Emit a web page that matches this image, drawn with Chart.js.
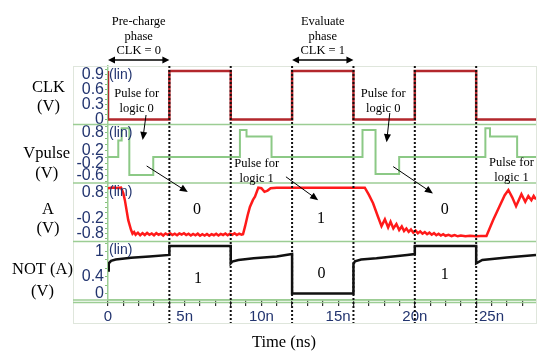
<!DOCTYPE html>
<html>
<head>
<meta charset="UTF-8">
<title>Dynamic logic waveforms</title>
<script src="https://cdn.jsdelivr.net/npm/chart.js"></script>
<style>
  html, body { margin: 0; padding: 0; background: #fff; }
</style>
</head>
<body>
<canvas id="myChart" width="550" height="359"></canvas>
<script>
// time axis (ns)
const xTicks = [0,1,2,3,4,5,6,7,8,9,10,11,12,13,14,15,16,17,18,19,20,21,22,23,24,25,26,27];
const xLabelled = [0, 5, 10, 15, 20, 25];

// clock edges (ns), dotted guides
const clkEdges = [4, 8, 12, 16, 20, 24];

// CLK (V)
const clkTime = [0, 0, 4, 4, 8, 8, 12, 12, 16, 16, 20, 20, 24, 24, 27.9];
const clkVolt = [0.97, 0, 0, 0.97, 0.97, 0, 0, 0.97, 0.97, 0, 0, 0.97, 0.97, 0, 0];
const clkTicks = [0, 0.1, 0.2, 0.3, 0.4, 0.5, 0.6, 0.7, 0.8, 0.9, 1.0];
const clkLabels = [0, 0.3, 0.6, 0.9];

// Vpulse (V)
const vpTime = [0, 0.67, 0.67, 0.89, 0.89, 1.39, 1.39, 2.95, 2.95, 8.6, 8.6, 9.03, 9.03, 10.66, 10.66,
  16.59, 16.59, 17.44, 17.44, 18.98, 18.98, 24.6, 24.6, 24.9, 24.9, 26.67, 26.67, 27.9];
const vpVolt = [0, 0, 0.53, 0.53, 0.93, 0.93, -0.58, -0.58, 0, 0, 0.87, 0.87, 0.66, 0.66, 0,
  0, 0.87, 0.87, -0.55, -0.55, 0, 0, 0.93, 0.93, 0.66, 0.66, 0, 0];
const vpTicks = [-0.8, -0.6, -0.4, -0.2, 0, 0.2, 0.4, 0.6, 0.8, 1.0];
const vpLabels = [0.8, 0.2, -0.2, -0.6];

// A (V)
const aTime = [0, 0.3, 0.6, 0.85, 1.0, 1.1, 1.32, 1.5, 1.6,
  1.7, 1.8, 1.95, 2.1, 2.25, 2.4, 2.55, 2.7, 2.85, 3.0, 3.15, 3.3, 3.45, 3.6, 3.75, 3.9,
  4.05, 4.2, 4.35, 4.5, 4.65, 4.8, 4.95, 5.1, 5.25, 5.4, 5.55, 5.7, 5.85, 6.0, 6.15, 6.3,
  6.45, 6.6, 6.75, 6.9, 7.05, 7.2, 7.35, 7.5, 7.65, 7.8, 7.95, 8.1, 8.25, 8.4, 8.55, 8.7, 8.8,
  8.93, 9.1, 9.25, 9.45, 9.58, 9.8, 10.0, 10.2, 10.4, 10.6, 11.0, 13.0, 15.0, 16.74,
  17.0, 17.28, 17.6, 17.83, 18.05, 18.26, 18.42, 18.6, 18.8, 18.98, 19.15, 19.3, 19.45, 19.6,
  19.75, 19.9, 20.05, 20.2, 20.35, 20.5, 20.65, 20.8, 20.95, 21.1, 21.25, 21.4, 21.55, 21.7,
  21.85, 22.0, 22.2, 22.4, 22.6, 22.8, 23.0, 23.3, 23.6, 24.0, 24.3, 24.67,
  25.1, 25.5, 25.86, 26.1, 26.35, 26.6, 26.95, 27.2, 27.4, 27.6, 27.75, 27.9];
const aVolt = [0.95, 0.98, 0.96, 0.97, 0.75, 0.49, -0.28, -0.65, -0.8,
  -0.74, -0.84, -0.76, -0.86, -0.78, -0.85, -0.77, -0.84, -0.79, -0.86, -0.78, -0.84, -0.80, -0.87, -0.79, -0.84,
  -0.78, -0.85, -0.80, -0.86, -0.79, -0.83, -0.78, -0.85, -0.80, -0.87, -0.81, -0.86, -0.80, -0.88, -0.82, -0.87,
  -0.81, -0.88, -0.82, -0.86, -0.80, -0.87, -0.81, -0.85, -0.79, -0.86, -0.80, -0.84, -0.78, -0.85, -0.80, -0.84, -0.82,
  -0.53, -0.1, 0.23, 0.5, 0.62, 0.97, 0.95, 0.81, 0.86, 0.95, 0.97, 0.97, 0.97, 0.97,
  0.7, 0.37, -0.15, -0.51, -0.25, -0.56, -0.34, -0.60, -0.43, -0.66, -0.52, -0.70, -0.60, -0.73,
  -0.64, -0.76, -0.68, -0.78, -0.71, -0.80, -0.74, -0.82, -0.76, -0.84, -0.78, -0.86, -0.80, -0.87,
  -0.82, -0.88, -0.84, -0.89, -0.85, -0.90, -0.87, -0.90, -0.88, -0.90, -0.89, -0.89,
  -0.28, 0.23, 0.68, 0.88, 0.6, 0.26, 0.72, 0.43, 0.65, 0.49, 0.65, 0.52];
const aTicks = [-1.0, -0.8, -0.6, -0.4, -0.2, 0, 0.2, 0.4, 0.6, 0.8, 1.0];
const aLabels = [0.8, -0.2, -0.8];

// NOT (A) (V)
const notTime = [0, 0.05, 0.2, 0.5, 1.5, 2.7, 4.0, 4.0, 8.0, 8.0, 8.1, 8.5, 9.5, 11.0, 12.0,
  12.0, 16.0, 16.0, 16.1, 16.5, 17.5, 19.5, 20.0, 20.0, 24.0, 24.0, 24.4, 26.0, 27.9];
const notVolt = [0.55, 0.72, 0.78, 0.81, 0.85, 0.88, 0.92, 1.13, 1.13, 0.72, 0.76, 0.80, 0.84, 0.88, 0.94,
  0.0, 0.0, 0.70, 0.77, 0.81, 0.84, 0.92, 0.94, 1.13, 1.13, 0.72, 0.80, 0.86, 0.92];
const notTicks = [0, 0.2, 0.4, 0.6, 0.8, 1.0, 1.2];
const notLabels = [1, 0.4, 0];

// annotations
const phaseSpans = [[0, 4], [12, 16]];
const phaseTexts = [['Pre-charge', 'phase', 'CLK = 0'], ['Evaluate', 'phase', 'CLK = 1']];
const panelNames = [['yClk', ['CLK', '(V)'], 0.64, 0.26, 48.5], ['yVp', ['Vpulse', '(V)'], 0.12, -0.53, 46.7],
  ['yA', ['A', '(V)'], 0.11, -0.6, 48], ['yNot', ['NOT (A)', '(V)'], 0.58, 0.04, 42.5]];
const pulseNotes = [[['Pulse for', 'logic 0'], 1.87, 'yClk', 0.51], [['Pulse for', 'logic 0'], 17.94, 'yClk', 0.51],
  [['Pulse for', 'logic 1'], 9.69, 'yVp', -0.23], [['Pulse for', 'logic 1'], 26.3, 'yVp', -0.17]];
const noteArrows = [[2.48, 'yClk', 0.09, 2.26, 'yVp', 0.55], [18.37, 'yClk', 0.13, 18.16, 'yVp', 0.48],
  [2.52, 'yVp', -0.29, 5.2, 'yA', 0.8], [18.59, 'yVp', -0.31, 21.18, 'yA', 0.75],
  [11.6, 'yVp', -0.64, 13.7, 'yA', 0.49]];
const logicDigits = [['0', 5.8, 'yA', 0.11], ['1', 13.88, 'yA', -0.24], ['0', 21.95, 'yA', 0.11],
  ['1', 5.86, 'yNot', 0.345], ['0', 13.92, 'yNot', 0.46], ['1', 21.95, 'yNot', 0.44]];

const NAVY = '#22346f';
const GREEN = '#9ccd94';
const SERIF = "'Liberation Serif', 'Times New Roman', serif";
const SANS = "'Liberation Sans', Arial, sans-serif";

const pts = (ts, vs) => ts.map((t, i) => ({x: t, y: vs[i]}));

function panelAxis(min, max, ticks, labels, weight) {
  return {
    type: 'linear', axis: 'y', position: 'left', stack: 'wave', stackWeight: 1, weight: weight,
    min: min, max: max,
    afterFit(s) { s.width = 35; },
    afterBuildTicks(s) { s.ticks = ticks.map(v => ({value: v})); },
    ticks: {
      autoSkip: false, padding: 1, color: NAVY, font: {family: SANS, size: 16},
      callback: v => labels.includes(v) ? String(v) : ''
    },
    grid: {drawOnChartArea: false, drawTicks: true, tickLength: 3, color: '#86c17e', lineWidth: 1},
    border: {display: true, color: GREEN, width: 1.5}
  };
}

function arrowHead(ctx, x, y, ang, len, w) {
  ctx.beginPath();
  ctx.moveTo(x, y);
  ctx.lineTo(x - len * Math.cos(ang) + w * Math.sin(ang), y - len * Math.sin(ang) - w * Math.cos(ang));
  ctx.lineTo(x - len * Math.cos(ang) - w * Math.sin(ang), y - len * Math.sin(ang) + w * Math.cos(ang));
  ctx.closePath();
  ctx.fill();
}

const decor = {
  id: 'decor',
  beforeDatasetsDraw(chart) {
    const ctx = chart.ctx, area = chart.chartArea, xs = chart.scales.x;
    const left = chart.scales.yClk.left;
    ctx.save();
    // outer frame
    ctx.strokeStyle = '#dfe6dc';
    ctx.lineWidth = 1;
    ctx.strokeRect(left + 0.5, area.top + 0.5, area.right - left, xs.bottom - area.top);
    // panel separators
    ctx.strokeStyle = GREEN;
    ctx.lineWidth = 1.5;
    ['yClk', 'yVp', 'yA', 'yNot'].forEach(id => {
      const b = chart.scales[id].bottom;
      ctx.beginPath(); ctx.moveTo(left, b); ctx.lineTo(area.right, b); ctx.stroke();
    });
    ctx.beginPath(); ctx.moveTo(left, area.bottom + 2.5); ctx.lineTo(area.right, area.bottom + 2.5); ctx.stroke();
    ctx.restore();
  },
  afterDatasetsDraw(chart) {
    const ctx = chart.ctx, area = chart.chartArea, xs = chart.scales.x, sc = chart.scales;
    ctx.save();
    // dotted clock edges
    ctx.strokeStyle = '#111';
    ctx.lineWidth = 2;
    ctx.setLineDash([2, 2]);
    clkEdges.forEach(t => {
      const px = xs.getPixelForValue(t);
      ctx.beginPath(); ctx.moveTo(px, area.top); ctx.lineTo(px, xs.bottom); ctx.stroke();
    });
    ctx.setLineDash([]);

    // (lin) tags
    ctx.fillStyle = NAVY;
    ctx.font = '14px ' + SANS;
    ctx.textAlign = 'left';
    ctx.textBaseline = 'middle';
    ['yClk', 'yVp', 'yA', 'yNot'].forEach(id => ctx.fillText('(lin)', area.left + 1, sc[id].top + 9));

    ctx.fillStyle = '#000';
    ctx.strokeStyle = '#000';
    ctx.textAlign = 'center';

    // phase labels with double arrows
    phaseSpans.forEach((sp, i) => {
      const x1 = xs.getPixelForValue(sp[0]), x2 = xs.getPixelForValue(sp[1]);
      const y = area.top - 6;
      ctx.lineWidth = 1.5;
      ctx.beginPath(); ctx.moveTo(x1 + 4, y); ctx.lineTo(x2 - 4, y); ctx.stroke();
      arrowHead(ctx, x2, y, 0, 7, 3.5);
      arrowHead(ctx, x1, y, Math.PI, 7, 3.5);
      ctx.font = '12.5px ' + SERIF;
      phaseTexts[i].forEach((s, k) => ctx.fillText(s, (x1 + x2) / 2, area.top - 44 + k * 14.5));
    });

    // panel names on the left
    ctx.font = '16.5px ' + SERIF;
    panelNames.forEach(p => {
      const s = sc[p[0]];
      ctx.fillText(p[1][0], p[4], s.getPixelForValue(p[2]));
      ctx.fillText(p[1][1], p[4], s.getPixelForValue(p[3]));
    });

    // pulse notes
    ctx.font = '12.5px ' + SERIF;
    pulseNotes.forEach(n => {
      const x = xs.getPixelForValue(n[1]), y = sc[n[2]].getPixelForValue(n[3]);
      n[0].forEach((s, k) => ctx.fillText(s, x, y + k * 15));
    });

    // note arrows
    ctx.lineWidth = 1;
    noteArrows.forEach(a => {
      const x1 = xs.getPixelForValue(a[0]), y1 = sc[a[1]].getPixelForValue(a[2]);
      const x2 = xs.getPixelForValue(a[3]), y2 = sc[a[4]].getPixelForValue(a[5]);
      const ang = Math.atan2(y2 - y1, x2 - x1);
      ctx.beginPath(); ctx.moveTo(x1, y1); ctx.lineTo(x2 - 5 * Math.cos(ang), y2 - 5 * Math.sin(ang)); ctx.stroke();
      arrowHead(ctx, x2, y2, ang, 8, 3.5);
    });

    // logic values
    ctx.font = '16px ' + SERIF;
    logicDigits.forEach(d => ctx.fillText(d[0], xs.getPixelForValue(d[1]), sc[d[2]].getPixelForValue(d[3])));

    // axis title
    ctx.font = '16.5px ' + SERIF;
    ctx.fillText('Time (ns)', xs.getPixelForValue(11.47), xs.bottom + 20);
    ctx.restore();
  }
};

const ctx = document.getElementById('myChart').getContext('2d');
new Chart(ctx, {
  type: 'line',
  data: {
    datasets: [
      {label: 'CLK', data: pts(clkTime, clkVolt), yAxisID: 'yClk', borderColor: '#b3272c', borderWidth: 2.5},
      {label: 'Vpulse', data: pts(vpTime, vpVolt), yAxisID: 'yVp', borderColor: '#8cc986', borderWidth: 2},
      {label: 'A', data: pts(aTime, aVolt), yAxisID: 'yA', borderColor: '#ff1a1a', borderWidth: 2.5},
      {label: 'NOT (A)', data: pts(notTime, notVolt), yAxisID: 'yNot', borderColor: '#111', borderWidth: 2.5}
    ]
  },
  options: {
    responsive: false,
    animation: false,
    devicePixelRatio: 1,
    layout: {padding: {left: 73, right: 14, top: 66, bottom: 36}},
    elements: {point: {radius: 0}, line: {tension: 0, fill: false, borderJoinStyle: 'miter'}},
    plugins: {legend: {display: false}, tooltip: {enabled: false}},
    scales: {
      x: {
        type: 'linear', position: 'bottom', min: 0, max: 27.9,
        afterFit(s) { s.height = 23; },
        afterBuildTicks(s) { s.ticks = xTicks.map(v => ({value: v})); },
        ticks: {
          autoSkip: false, maxRotation: 0, padding: 2, color: NAVY, font: {family: SANS, size: 15},
          callback: v => xLabelled.includes(v) ? (v === 0 ? '0' : v + 'n') : ''
        },
        grid: {drawOnChartArea: false, drawTicks: true, tickLength: 6, color: '#333', lineWidth: 1.2},
        border: {display: true, color: GREEN, width: 1.5}
      },
      yClk: panelAxis(-0.1, 1.07, clkTicks, clkLabels, 4),
      yVp: panelAxis(-0.84, 1.05, vpTicks, vpLabels, 3),
      yA: panelAxis(-1.1, 1.15, aTicks, aLabels, 2),
      yNot: panelAxis(-0.155, 1.24, notTicks, notLabels, 1)
    }
  },
  plugins: [decor]
});
</script>
</body>
</html>
